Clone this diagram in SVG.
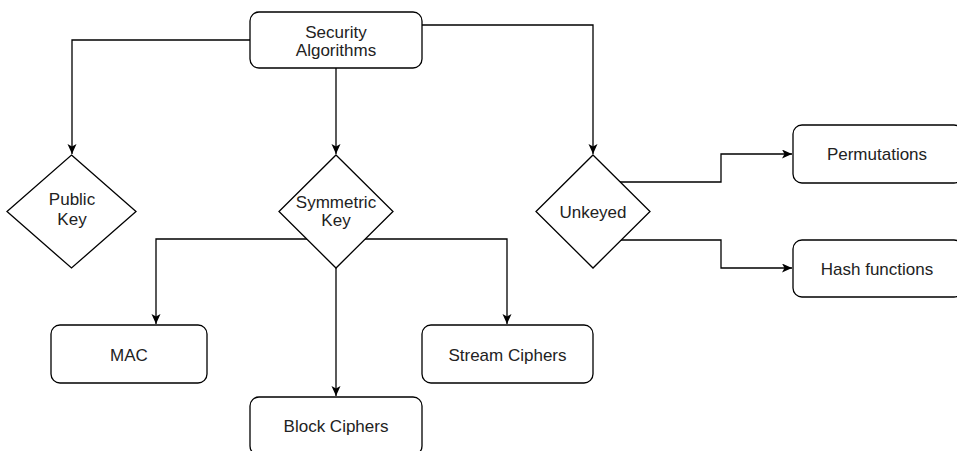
<svg xmlns="http://www.w3.org/2000/svg" width="957" height="451" viewBox="0 0 957 451">
  <style>
    .box { fill: #ffffff; stroke: #000000; stroke-width: 1.3; }
    .lbl { font-family: "Liberation Sans", Arial, Helvetica, sans-serif; font-size: 17px; fill: #222222; text-anchor: middle; }
    .edge { fill: none; stroke: #000000; stroke-width: 1.3; marker-end: url(#arrow); }
  </style>
  <defs>
    <marker id="arrow" markerUnits="userSpaceOnUse" markerWidth="12" markerHeight="10" refX="10" refY="4.5" orient="auto">
      <path d="M0,0 L10,4.5 L0,9 L2.5,4.5 Z" fill="#000000"/>
    </marker>
  </defs>
  <rect width="957" height="451" fill="#ffffff"/>

  <!-- connectors -->
  <g id="connectors">
    <path class="edge" d="M250,40 H72 V154"/>
    <path class="edge" d="M336,68 V154"/>
    <path class="edge" d="M422,25 H593 V154"/>
    <path class="edge" d="M307,239 H156 V324"/>
    <path class="edge" d="M365,239 H507 V324"/>
    <path class="edge" d="M336,268 V396"/>
    <path class="edge" d="M620,182 H721 V154 H792"/>
    <path class="edge" d="M620,240 H721 V268 H792"/>
  </g>

  <!-- nodes -->
  <g id="security-algorithms">
    <rect class="box" x="250" y="12" width="172" height="56" rx="9"/>
    <text class="lbl" x="336" y="37.5">Security</text>
    <text class="lbl" x="336" y="55.5">Algorithms</text>
  </g>
  <g id="public-key">
    <polygon class="box" points="71.5,155 136,211.5 71.5,268 7,211.5"/>
    <text class="lbl" x="72" y="205">Public</text>
    <text class="lbl" x="72" y="225">Key</text>
  </g>
  <g id="symmetric-key">
    <polygon class="box" points="336,155 393,211.5 336,268 279,211.5"/>
    <text class="lbl" x="336" y="208">Symmetric</text>
    <text class="lbl" x="336" y="226">Key</text>
  </g>
  <g id="unkeyed">
    <polygon class="box" points="593,155 650,211.5 593,268 536,211.5"/>
    <text class="lbl" x="593" y="218">Unkeyed</text>
  </g>
  <g id="permutations">
    <rect class="box" x="793" y="125" width="170" height="58" rx="9"/>
    <text class="lbl" x="877" y="160">Permutations</text>
  </g>
  <g id="hash-functions">
    <rect class="box" x="793" y="240" width="170" height="57" rx="9"/>
    <text class="lbl" x="877" y="274.5">Hash functions</text>
  </g>
  <g id="mac">
    <rect class="box" x="51" y="325" width="156" height="58" rx="9"/>
    <text class="lbl" x="129" y="360.5">MAC</text>
  </g>
  <g id="stream-ciphers">
    <rect class="box" x="422" y="325" width="171" height="58" rx="9"/>
    <text class="lbl" x="507.5" y="360.5">Stream Ciphers</text>
  </g>
  <g id="block-ciphers">
    <rect class="box" x="250" y="397" width="172" height="58" rx="9"/>
    <text class="lbl" x="336" y="432">Block Ciphers</text>
  </g>
</svg>
